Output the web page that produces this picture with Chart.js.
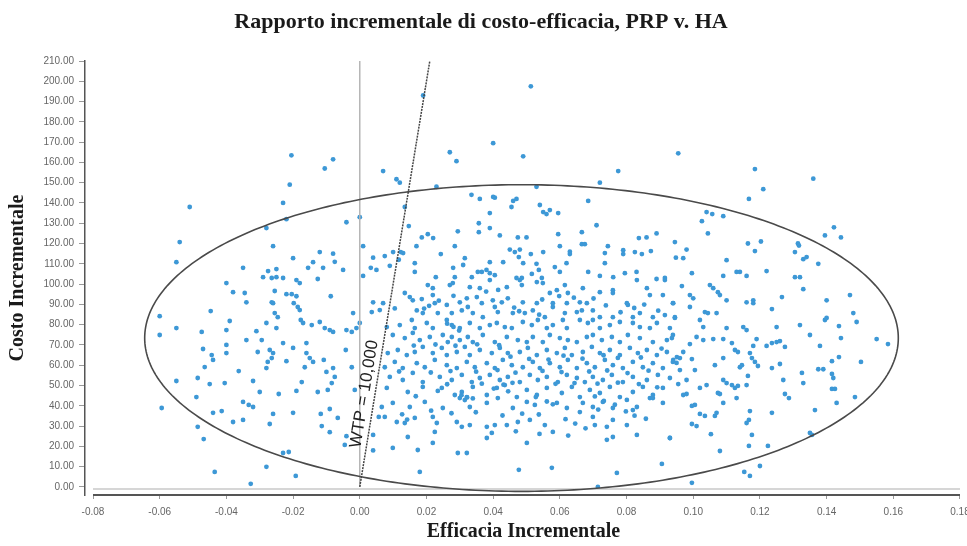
<!DOCTYPE html>
<html>
<head>
<meta charset="utf-8">
<script src="https://cdn.jsdelivr.net/npm/chart.js@4/dist/chart.umd.min.js"></script>
<style>
html,body{margin:0;padding:0;background:#fff;}
#wrap{width:967px;height:546px;position:relative;}
</style>
</head>
<body>
<div id="wrap"><canvas id="c"></canvas></div>
<script>
const chartTitle = "Rapporto incrementale di costo-efficacia, PRP v. HA";
const xTitle = "Efficacia Incrementale";
const yTitle = "Costo Incrementale";
const xTicks = [-0.08,-0.06,-0.04,-0.02,0.00,0.02,0.04,0.06,0.08,0.10,0.12,0.14,0.16,0.18];
const yTicks = [0,10,20,30,40,50,60,70,80,90,100,110,120,130,140,150,160,170,180,190,200,210];
const wtpValue = 10000;
const wtpLabel = "WTP = 10,000";
const ellipseCenter = [0.0485, 73.4];
const ellipseRadii = [0.113, 75.6];

// [incremental efficacy, incremental cost]
const upperLeftPts = [[-0.0205,163.5],[-0.008,161.5],[-0.0105,157],[0.007,155.7],[-0.021,149],[-0.051,138],[-0.023,140],[-0.028,127.6],[-0.022,132],[0.000,133],[-0.004,130.5],[-0.054,120.7],[-0.055,110.8],[-0.026,118.7],[0.001,118.7],[-0.020,112.8],[-0.012,115.8],[-0.008,115],[-0.0075,111],[-0.014,110.8],[-0.0155,108],[-0.011,108],[-0.005,107],[0.004,113],[0.0075,113.8],[0.0033,108],[0.005,107],[-0.035,108],[-0.0275,106.4],[-0.025,107.4],[0.009,109],[0.001,104]];

const upperMidPts = [[0.0513,197.5],[0.019,193],[0.040,169.5],[0.027,165],[0.029,160.6],[0.049,163],[0.0775,155.7],[0.0955,164.5],[0.011,151.7],[0.012,150],[0.023,148],[0.053,148],[0.072,150],[0.0135,138],[0.0335,144],[0.036,142],[0.040,143],[0.0405,142.6],[0.046,141],[0.047,142],[0.0455,138],[0.054,139],[0.055,135.5],[0.056,134.5],[0.057,136.5],[0.0595,135],[0.039,135],[0.0685,141],[0.0147,128.6],[0.0357,130],[0.0357,125.6],[0.039,127.6],[0.0294,126],[0.071,129],[0.0666,125.6],[0.0595,124.6],[0.042,124],[0.0474,123],[0.050,123],[0.0186,123],[0.0204,124.6],[0.022,122.7],[0.0837,122.7],[0.086,123],[0.089,125],[0.0945,120.7],[0.0948,113],[0.017,118.7],[0.0285,118.7],[0.0666,119.7],[0.0675,119.7],[0.060,118.7],[0.0744,118.7],[0.010,115.8],[0.0123,115.8],[0.013,115.3],[0.0117,112],[0.0165,110.3],[0.0165,106],[0.0243,114.8],[0.0315,112.8],[0.031,109.4],[0.028,108],[0.0228,103.4],[0.039,110.8],[0.043,110.8],[0.045,117],[0.0465,115.8],[0.048,117],[0.0477,113.3],[0.0513,114.8],[0.055,115.8],[0.049,110.3],[0.053,110],[0.0537,107],[0.0585,108.4],[0.060,106],[0.063,116],[0.063,114.8],[0.062,110.3],[0.0685,106],[0.0735,110.3],[0.0735,115.3],[0.079,116.7],[0.079,114.8],[0.0825,115.8],[0.0846,114.8],[0.0873,116.3],[0.083,106],[0.0795,105.4],[0.0366,106],[0.038,107],[0.039,105.4],[0.0405,104.4],[0.0336,103.4],[0.0354,106],[0.0285,103.4],[0.047,103],[0.0486,103],[0.0516,105],[0.0546,103],[0.072,104],[0.076,103.4],[0.0915,103],[0.089,102.5]];

const upperRightPts = [[0.1185,156.7],[0.136,152],[0.121,146.8],[0.1167,142],[0.104,135.5],[0.1057,134.5],[0.109,133.5],[0.1026,131],[0.1044,125],[0.098,117],[0.097,112.8],[0.0996,105.4],[0.110,111.8],[0.1164,120],[0.1203,121],[0.1185,116.3],[0.113,106],[0.114,106],[0.116,104],[0.109,104],[0.122,106.4],[0.1314,120],[0.1317,119],[0.1305,115.8],[0.133,112.3],[0.134,113.3],[0.1375,110],[0.1395,124],[0.1422,128],[0.1443,123],[0.1305,103.4],[0.132,103.4]];

const lowerLeftPts = [[-0.040,100.5],[-0.038,96],[-0.0345,95.6],[-0.034,91],[-0.029,103.4],[-0.0264,103],[-0.025,103.4],[-0.023,103],[-0.019,102],[-0.018,100.5],[-0.0126,102.5],[-0.0087,94],[-0.0255,96.6],[-0.022,95],[-0.0204,95],[-0.019,94],[-0.0264,91],[-0.026,90.6],[-0.0198,90.6],[-0.0186,88.7],[-0.018,87.2],[-0.0255,85.7],[-0.0246,83.7],[-0.0177,82.3],[-0.017,80.8],[-0.0144,79.8],[-0.012,81.3],[-0.0105,78.3],[-0.009,77.3],[-0.008,76.4],[-0.004,77.3],[-0.0024,76.4],[-0.001,78.3],[0,80.8],[-0.002,85.7],[0.0036,86.2],[0.006,87.2],[0.004,91],[0.007,90.6],[-0.060,84.2],[-0.060,74.9],[-0.055,78.3],[-0.0447,86.7],[-0.039,81.8],[-0.040,77.3],[-0.031,76.8],[-0.028,80.8],[-0.025,78.3],[-0.0474,76.4],[-0.034,72.4],[-0.0294,72.4],[-0.023,70.9],[-0.020,68.5],[-0.016,70.9],[-0.047,68],[-0.0465,59.1],[-0.040,70],[-0.040,66],[-0.0444,65],[-0.044,62.6],[-0.0306,66.5],[-0.027,67.5],[-0.026,66],[-0.0264,63.5],[-0.0276,61.6],[-0.028,58.6],[-0.022,62],[-0.016,66],[-0.015,63.5],[-0.014,61.6],[-0.0165,59],[-0.0108,62.6],[-0.010,56.7],[-0.008,58.6],[-0.0075,54.2],[-0.0084,51.2],[-0.0042,67.5],[-0.0024,59],[-0.0015,47.8],[-0.055,52.2],[-0.0486,53.7],[-0.045,50.7],[-0.0405,51.2],[-0.0363,57.1],[-0.032,52.2],[-0.030,46.8],[-0.0243,45.8],[-0.019,47.3],[-0.0174,51.7],[-0.0126,46.8],[-0.0096,47.8],[-0.049,44.3],[-0.035,41.9],[-0.0333,40.4],[-0.032,39.4],[-0.044,36.5],[-0.0414,37.4],[-0.026,36],[-0.020,36.5],[-0.0117,36],[-0.009,38.4],[-0.0066,34],[-0.009,27],[-0.0114,30],[-0.038,32],[-0.035,33],[-0.027,31],[-0.0594,38.9],[-0.0486,29.6],[-0.0468,23.6],[-0.004,25],[-0.0045,20.7],[-0.023,16.7],[-0.0213,17.2],[-0.028,9.9],[-0.0435,7.4],[-0.0192,5.4],[-0.0327,1.5],[0.004,18],[0.004,25.6],[0.0057,34.5],[0.0066,39.4]];

const centerUpperPts = [[0.0204,99.5],[0.0219,98],[0.027,99.5],[0.0279,100.5],[0.033,98.5],[0.036,98],[0.039,102],[0.0441,98.5],[0.048,102],[0.0486,99.5],[0.0531,101],[0.0549,100.5],[0.057,95.6],[0.0591,97],[0.0615,99.5],[0.0624,95.6],[0.0669,98],[0.072,96],[0.0759,97],[0.0831,102],[0.0861,98],[0.0915,102],
[0.0135,95.6],[0.015,93.6],[0.0159,92],[0.0186,92.6],[0.0219,94.6],[0.0225,90.6],[0.030,91],[0.0321,93],[0.0351,93.6],[0.0366,90.6],[0.0399,92],[0.0426,91],[0.0444,93],[0.0489,91],[0.0531,90.6],[0.0579,90.6],[0.0621,90.6],[0.066,91],[0.0681,90.6],[0.0759,95.6],[0.0804,89.7],[0.087,94.6],[0.0909,94.6],[0.0939,90.6],
[0.0105,88],[0.0171,87],[0.0189,85.7],[0.0234,85.7],[0.0261,89.7],[0.0276,85.7],[0.0306,87],[0.0324,88.7],[0.0339,85.7],[0.0369,83.7],[0.0405,88.7],[0.0414,86.2],[0.0459,85.7],[0.0495,85.7],[0.0519,87],[0.0555,83.7],[0.0579,88.7],[0.0615,85.7],[0.0651,86.2],[0.0666,87],[0.0699,87],[0.072,83.7],[0.0759,83.7],[0.0801,90.6],[0.0819,83.7],[0.084,85.7],[0.0879,83.7],[0.0915,84.7],[0.0945,83.7],
[0.0081,78.8],[0.012,79.8],[0.0156,82.3],[0.0165,78.3],[0.0201,80.8],[0.0219,78.3],[0.0261,82.3],[0.0276,79.8],[0.030,78.3],[0.033,80.8],[0.036,78.3],[0.039,79.8],[0.0411,80.8],[0.0435,78.8],[0.0456,78.3],[0.0489,81.3],[0.0516,79.8],[0.0534,82.3],[0.0561,78.3],[0.0579,79.8],[0.0609,82.3],[0.0621,78.3],[0.066,82.3],[0.0684,80.8],[0.0699,82.3],[0.072,78.3],[0.075,79.8],[0.078,81.3],[0.0819,80.8],[0.084,78.8],[0.087,78.3],[0.0891,80.8],[0.093,78.3],
[0.0099,74.9],[0.0135,73.4],[0.0159,75.9],[0.018,72.4],[0.021,73.9],[0.0249,74.9],[0.0264,71.4],[0.0276,73.9],[0.030,72.4],[0.0324,73.9],[0.0339,71.4],[0.0369,74.9],[0.0405,71.4],[0.0441,73.9],[0.0474,72.4],[0.0501,71.4],[0.0519,73.9],[0.0549,71.4],[0.057,74.9],[0.060,73.4],[0.0624,72.4],[0.0651,71.4],[0.0681,73.9],[0.0699,74.9],[0.0726,72.4],[0.0756,73.9],[0.078,71.4],[0.0804,74.9],[0.084,73.4],[0.0879,71.4],[0.0921,72.4],[0.0939,74.9]];

const centerLowerPts = [[0.0084,66],[0.0114,67.5],[0.0141,65],[0.0165,66.5],[0.0189,69],[0.0219,66],[0.0246,68.5],[0.0261,65],[0.0291,66.5],[0.0315,69],[0.033,65],[0.036,67.5],[0.0396,66],[0.042,68.5],[0.0444,66],[0.048,66.5],[0.0504,68.5],[0.0531,65],[0.0561,67.5],[0.0591,66],[0.0615,68.5],[0.0636,65],[0.0669,66.5],[0.0696,69],[0.072,66],[0.075,67.5],[0.078,65],[0.081,68.5],[0.0834,66],[0.0861,67.5],[0.0891,65],[0.0921,66.5],[0.0951,64],
[0.0075,59],[0.0105,61.6],[0.0129,58.6],[0.0171,61],[0.0195,59],[0.0225,62.6],[0.0261,60],[0.0291,58.6],[0.0321,61.6],[0.0345,59],[0.0381,61],[0.0405,58.6],[0.0429,62.6],[0.0456,60],[0.0489,59],[0.0519,61.6],[0.054,58.6],[0.057,61],[0.060,59],[0.0624,62.6],[0.0651,58.6],[0.0681,61],[0.0705,59],[0.0735,62.6],[0.0759,60],[0.0789,58.6],[0.0819,61.6],[0.0849,59],[0.0879,61],[0.0909,58.6],[0.0939,61.6],
[0.009,54.2],[0.0129,52.7],[0.0159,56.2],[0.0189,51.7],[0.024,54.2],[0.0276,52.7],[0.0306,55.2],[0.0336,51.7],[0.036,53.7],[0.039,55.2],[0.042,52.7],[0.0444,54.2],[0.048,51.7],[0.051,55.2],[0.0534,52.7],[0.0561,54.2],[0.0594,51.7],[0.0621,55.2],[0.0651,53.7],[0.0675,51.7],[0.0699,54.2],[0.0729,52.7],[0.0756,55.2],[0.0789,51.7],[0.0819,54.2],[0.0861,52.7],[0.0894,55.2],[0.093,53.7],
[0.0081,48.8],[0.0144,46.8],[0.0189,49.3],[0.0246,48.8],[0.0285,45.3],[0.0306,46.8],[0.0321,44.3],[0.0339,49.3],[0.0381,45.3],[0.0411,48.8],[0.0435,50.2],[0.0471,44.3],[0.0501,47.8],[0.0531,45.3],[0.0561,48.8],[0.0606,46.3],[0.0636,49.3],[0.066,44.3],[0.069,47.8],[0.072,46.3],[0.075,49.3],[0.078,44.3],[0.0819,46.8],[0.0849,49.3],[0.0879,45.3],[0.0909,48.8],
[0.0099,41.4],[0.015,39.4],[0.0195,41.9],[0.0249,38.9],[0.030,43.8],[0.033,39.4],[0.0381,41.4],[0.0414,43.8],[0.0459,38.9],[0.0501,41.9],[0.0525,40.4],[0.0591,41.4],[0.0621,38.9],[0.0669,41.4],[0.0699,39.4],[0.0729,41.9],[0.0759,38.9],[0.0801,42.9],[0.0831,39.4],[0.087,43.8],[0.0909,41.4],
[0.0075,34.5],[0.0111,32],[0.0135,31.5],[0.0165,34],[0.0219,34.5],[0.0231,31.5],[0.0291,32],[0.0306,29.6],[0.033,30.5],[0.0381,29.6],[0.0405,30.5],[0.0441,30.5],[0.0474,32],[0.051,33],[0.0555,30.5],[0.0579,27.1],[0.066,36.9],[0.0699,34.5],[0.0705,30.5],[0.0741,29.6],[0.0759,33],[0.0801,30.5],[0.0819,37.9],[0.0879,43.8],
[0.0099,19.2],[0.0144,24.6],[0.0174,18.2],[0.0219,21.7],[0.0225,27.1],[0.0294,16.7],[0.0321,16.7],[0.0381,24.1],[0.0396,26.6],[0.0501,21.7],[0.0741,23.2],[0.0759,24.6],[0.0831,25.6],[0.093,24.1],
[0.018,7.4],[0.0477,8.4],[0.0576,9.4],[0.0771,6.9],[0.0906,11.3],[0.0714,0]];

const centerExtraPts = [[0.0262,80.5],[0.0281,78.9],[0.0298,77.1],[0.0305,45.2],[0.0322,44.1],[0.0339,43.6],[0.0315,42.8],[0.0402,48.5],[0.0431,50.4],[0.0445,47.1],[0.0528,44.3],[0.0561,42.1],[0.0579,40.7],[0.0705,44.6],[0.0732,42.4],[0.0765,40.5],[0.0798,37.2],[0.0824,35.1],[0.0127,35.8],[0.0142,33.2],[0.0193,87.9],[0.0208,89.3],[0.0237,91.8],[0.0281,94.2],[0.0379,96.3],[0.0415,97.1],[0.0463,88.4],[0.0478,86.6],[0.0538,84.9],[0.0547,92.4],[0.0598,94.1],[0.0642,93.3],[0.0701,92.9],[0.0738,89.5],[0.0782,86.1],[0.0823,88.2],[0.0853,89.9],[0.0895,86.9],[0.0162,69.7],[0.0227,70.2],[0.0287,69.6],[0.0352,70.3],[0.0418,69.9],[0.0452,64.2],[0.0508,63.1],[0.0566,62.8],[0.0611,64.7],[0.0668,63.2],[0.0731,64.9],[0.0774,63.6],[0.0843,63.8],[0.0905,68.2],[0.0118,56.9],[0.0213,56.4],[0.0272,57.1],[0.0349,56.8],[0.0413,57.6],[0.0467,56.3],[0.0548,57.2],[0.0605,56.6],[0.0688,56.9],[0.0742,57.4],[0.0803,56.1],[0.0866,57.3],[0.0234,47.3],[0.0262,50.6],[0.0366,50.9],[0.0458,51.3],[0.0587,50.8],[0.0644,51.2],[0.0713,50.9],[0.0774,51.4],[0.0837,50.7],[0.0892,49.1],[0.0168,44.7],[0.0214,37.6],[0.0275,36.3],[0.0348,36.8],[0.0428,35.2],[0.0487,36.1],[0.0537,35.7],[0.0617,33.4],[0.0646,31.2],[0.0677,28.9],[0.0715,38.1],[0.0858,33.6],[0.0468,27.4],[0.0539,26.1],[0.0625,25.3]];

const lowerRightPts = [[0.133,97.5],[0.0966,99],[0.105,99.5],[0.106,98],[0.1074,96],[0.108,94.6],[0.099,94.6],[0.100,93],[0.099,88.7],[0.094,90.6],[0.0945,83.3],[0.110,92],[0.116,91],[0.118,92],[0.118,90.6],[0.1266,93.6],[0.1236,87.7],[0.140,92],[0.147,94.6],[0.148,85.7],[0.149,81.3],[0.1035,86.2],[0.1044,85.7],[0.107,85.7],[0.102,82.3],[0.103,78.8],[0.110,78.3],[0.115,78.8],[0.116,77.3],[0.125,78.8],[0.132,79.8],[0.135,74.9],[0.1395,82.3],[0.140,83.3],[0.1437,79.3],[0.1443,73.4],[0.155,72.9],[0.1584,70.4],[0.0936,73.4],[0.101,73.9],[0.103,72.4],[0.106,72.9],[0.109,72.9],[0.099,70.4],[0.1116,70.9],[0.1125,67.5],[0.1134,66.5],[0.119,72.9],[0.118,69.5],[0.122,69.5],[0.1236,70.9],[0.125,71.4],[0.126,71.9],[0.1275,69],[0.138,69.5],[0.097,66.5],[0.094,62.6],[0.095,61.1],[0.096,63.5],[0.0996,63],[0.109,63.5],[0.117,66],[0.1176,63.5],[0.1185,61.6],[0.1194,59.6],[0.114,59],[0.1146,60],[0.1065,60],[0.1416,62],[0.1437,64],[0.1503,61.6],[0.096,57.6],[0.1005,57.6],[0.1236,58.6],[0.126,60.6],[0.1375,58],[0.139,58],[0.1416,55.7],[0.142,53.7],[0.1164,54.7],[0.1326,56.2],[0.133,51.2],[0.127,52.7],[0.0955,50.7],[0.098,52.7],[0.104,50.2],[0.102,48.8],[0.109,52.7],[0.110,51.2],[0.1116,50.2],[0.1125,48.8],[0.1134,49.8],[0.113,43.8],[0.116,50.2],[0.097,45.3],[0.098,45.8],[0.1074,46.3],[0.108,45.8],[0.1275,45.8],[0.1287,43.8],[0.1416,48.3],[0.1425,48.3],[0.1485,44.3],[0.143,41.4],[0.0996,39.9],[0.1005,40.4],[0.109,41.4],[0.102,36],[0.1035,35],[0.107,36.5],[0.1065,35],[0.117,37.4],[0.1236,36.5],[0.1365,37.9],[0.0996,31],[0.101,30],[0.116,31.5],[0.1167,33],[0.093,24.1],[0.1053,26],[0.1176,25.6],[0.1167,20.2],[0.1224,20.2],[0.108,17.7],[0.135,26.6],[0.1356,25.6],[0.1153,7.4],[0.117,5.4],[0.120,10.3],[0.0996,2]];

const allPts = [].concat(upperLeftPts, upperMidPts, upperRightPts, lowerLeftPts, centerUpperPts, centerLowerPts, centerExtraPts, lowerRightPts)
  .map(p => ({x: p[0], y: p[1]}));

const overlay = {
  id: 'overlay',
  afterDatasetsDraw(chart) {
    const {ctx, chartArea: ca, scales: {x, y}} = chart;
    ctx.save();
    ctx.strokeStyle = '#d6d6d6';
    ctx.lineWidth = 2;
    ctx.beginPath();
    ctx.moveTo(x.getPixelForValue(xTicks[0]), y.getPixelForValue(-1));
    ctx.lineTo(x.getPixelForValue(xTicks[xTicks.length-1]), y.getPixelForValue(-1));
    ctx.stroke();
    ctx.strokeStyle = '#555';
    ctx.lineWidth = 2;
    ctx.beginPath();
    ctx.moveTo(x.getPixelForValue(xTicks[0]), ca.bottom);
    ctx.lineTo(x.getPixelForValue(xTicks[xTicks.length-1]), ca.bottom);
    ctx.stroke();
    ctx.beginPath();
    ctx.rect(ca.left, ca.top - 2, ca.right - ca.left, ca.bottom - ca.top + 1);
    ctx.clip();
    ctx.strokeStyle = '#b5b5b5';
    ctx.lineWidth = 1.5;
    ctx.beginPath();
    ctx.moveTo(x.getPixelForValue(0), y.getPixelForValue(0));
    ctx.lineTo(x.getPixelForValue(0), y.getPixelForValue(yTicks[yTicks.length-1]));
    ctx.stroke();
    ctx.strokeStyle = '#4a4a4a';
    ctx.lineWidth = 1.6;
    ctx.beginPath();
    for (let i = 0; i <= 360; i++) {
      const t = i * Math.PI / 180;
      const px = x.getPixelForValue(ellipseCenter[0] + ellipseRadii[0] * Math.cos(t));
      const py = y.getPixelForValue(ellipseCenter[1] + ellipseRadii[1] * Math.sin(t));
      if (i === 0) ctx.moveTo(px, py); else ctx.lineTo(px, py);
    }
    ctx.closePath();
    ctx.stroke();
    const yTop = yTicks[yTicks.length-1];
    const x0 = x.getPixelForValue(0), y0 = y.getPixelForValue(0);
    const x1 = x.getPixelForValue(yTop / wtpValue), y1 = y.getPixelForValue(yTop);
    ctx.strokeStyle = '#444';
    ctx.lineWidth = 1.5;
    ctx.setLineDash([2, 1]);
    ctx.beginPath();
    ctx.moveTo(x0, y0);
    ctx.lineTo(x1, y1);
    ctx.stroke();
    ctx.setLineDash([]);
    const lc = 45;
    const lx = x.getPixelForValue(lc / wtpValue), ly = y.getPixelForValue(lc);
    const ang = Math.atan2(y1 - y0, x1 - x0);
    ctx.translate(lx, ly);
    ctx.rotate(ang);
    ctx.fillStyle = '#222';
    ctx.font = '17px "Liberation Sans", Arial, sans-serif';
    ctx.textAlign = 'center';
    ctx.textBaseline = 'bottom';
    ctx.fillText(wtpLabel, 0, -2);
    ctx.restore();
  }
};

new Chart(document.getElementById('c'), {
  type: 'scatter',
  data: {
    datasets: [{
      data: allPts,
      pointRadius: 2.4,
      pointBackgroundColor: '#3d98d6',
      pointBorderWidth: 0,
      showLine: false
    }]
  },
  options: {
    responsive: true,
    maintainAspectRatio: false,
    animation: false,
    layout: {padding: {left: 0, right: 5, top: 0, bottom: 0}},
    plugins: {
      legend: {display: false},
      tooltip: {enabled: false},
      title: {
        display: true,
        text: chartTitle,
        color: '#1a1a1a',
        font: {family: '"Liberation Serif", "Times New Roman", serif', size: 22, weight: 'bold'},
        padding: {top: 9, bottom: 25.6}
      }
    },
    scales: {
      x: {
        type: 'linear',
        min: -0.0824,
        max: 0.1806,
        afterBuildTicks: s => { s.ticks = xTicks.map(v => ({value: v})); },
        afterFit: s => { s.height = 51; s.paddingLeft = 0; s.paddingRight = 0; },
        ticks: {
          callback: v => Number(v).toFixed(2),
          color: '#666',
          font: {family: '"Liberation Sans", Arial, sans-serif', size: 10},
          padding: 7,
          autoSkip: false,
          maxRotation: 0
        },
        grid: {display: true, drawOnChartArea: false, tickLength: 4, color: '#999'},
        border: {display: false},
        title: {
          display: true,
          text: xTitle,
          color: '#1a1a1a',
          font: {family: '"Liberation Serif", "Times New Roman", serif', size: 20, weight: 'bold'},
          padding: {top: 0, bottom: 2}
        }
      },
      y: {
        type: 'linear',
        min: -4,
        max: 210,
        afterBuildTicks: s => { s.ticks = yTicks.map(v => ({value: v})); },
        afterFit: s => { s.width = 85; s.paddingTop = 0; s.paddingBottom = 0; },
        ticks: {
          callback: v => Number(v).toFixed(2),
          color: '#666',
          font: {family: '"Liberation Sans", Arial, sans-serif', size: 10},
          padding: 5,
          autoSkip: false
        },
        grid: {display: true, drawOnChartArea: false, tickLength: 6, color: '#999'},
        border: {display: true, color: '#555', width: 1.5},
        title: {
          display: true,
          text: yTitle,
          color: '#1a1a1a',
          font: {family: '"Liberation Serif", "Times New Roman", serif', size: 20, weight: 'bold'},
          padding: {top: 6, bottom: 0}
        }
      }
    }
  },
  plugins: [overlay]
});
</script>
</body>
</html>
